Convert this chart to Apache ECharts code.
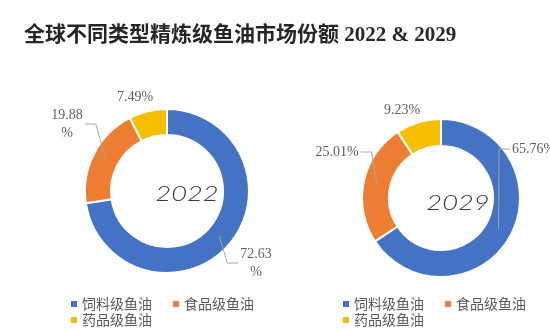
<!DOCTYPE html>
<html>
<head>
<meta charset="utf-8">
<script src="https://cdn.jsdelivr.net/npm/echarts@6/dist/echarts.min.js"></script>
<style>html,body{margin:0;padding:0;background:#fff}#main{width:550px;height:330px}</style>
</head>
<body>
<div id="main"></div>
<script>
const categories = ['饲料级鱼油', '食品级鱼油', '药品级鱼油'];
const share2022 = [72.63, 19.88, 7.49];
const share2029 = [65.76, 25.01, 9.23];
const years = ['2022', '2029'];
const titleText = '全球不同类型精炼级鱼油市场份额 2022 & 2029';

const colors = ['#4472C4', '#ED7D31', '#F5BF00'];
const labelFont = { fontFamily: '"Liberation Serif", "Noto Sans CJK SC", serif', fontSize: 14, color: '#5f5f5f' };

// label anchor spots (layout only): [x, y, align, showLeaderLine]
const spots2022 = [[256, 263, 'center', true], [67, 124, 'center', true], [135, 97, 'center', false]];
const spots2029 = [[512, 149, 'left', true], [337, 152, 'center', true], [402, 110, 'center', false]];

function makeData(vals) {
  return categories.map((c, i) => ({ name: c, value: vals[i] }));
}

function ringSeries(vals, center, radius) {
  return {
    type: 'pie',
    center: center,
    radius: radius,
    startAngle: 90,
    clockwise: true,
    z: 2,
    itemStyle: { borderColor: '#fff', borderWidth: 2 },
    label: { show: false },
    labelLine: { show: false },
    emphasis: { disabled: true },
    data: makeData(vals)
  };
}

// transparent overlay carrying labels + leader lines so lines draw over the ring
function labelSeries(vals, center, radius, spots, wrap) {
  const midR = (radius[0] + radius[1]) / 2;
  return {
    type: 'pie',
    center: center,
    radius: radius,
    startAngle: 90,
    clockwise: true,
    z: 5,
    silent: true,
    avoidLabelOverlap: false,
    itemStyle: { color: 'rgba(0,0,0,0)', borderWidth: 0 },
    label: Object.assign({
      show: true,
      position: 'outside',
      lineHeight: 18,
      formatter: p => (wrap && p.value > 10) ? p.value.toFixed(2) + '\n%' : p.value.toFixed(2) + '%'
    }, labelFont),
    labelLine: { show: true, length: 8, length2: 8, lineStyle: { color: '#a6a6a6', width: 1 } },
    labelLayout: function (p) {
      const s = spots[p.dataIndex];
      const out = { x: s[0], y: s[1], align: s[2], verticalAlign: 'middle' };
      const pts = p.labelLinePoints;
      if (pts && pts.length) {
        const w = p.labelRect.width;
        const leftEdge = s[2] === 'center' ? s[0] - w / 2 : (s[2] === 'left' ? s[0] : s[0] - w);
        const rightEdge = leftEdge + w;
        const dx = pts[0][0] - center[0], dy = pts[0][1] - center[1];
        const d = Math.sqrt(dx * dx + dy * dy) || 1;
        const p0 = [center[0] + dx / d * midR, center[1] + dy / d * midR];
        if (!s[3]) {
          out.labelLinePoints = [p0, p0, p0];
        } else {
          const onRight = p0[0] < leftEdge;
          const p2 = onRight ? [leftEdge - 2, s[1]] : [rightEdge + 2, s[1]];
          const p1 = onRight ? [p2[0] - 11, s[1]] : [p2[0] + 11, s[1]];
          out.labelLinePoints = [p0, p1, p2];
        }
      }
      return out;
    },
    emphasis: { disabled: true },
    data: makeData(vals)
  };
}

function legendPart(names, left, top) {
  return {
    data: names,
    left: left,
    top: top,
    orient: 'horizontal',
    icon: 'rect',
    itemWidth: 8,
    itemHeight: 8,
    itemGap: 19,
    selectedMode: false,
    textStyle: { fontFamily: '"Noto Sans CJK SC", sans-serif', fontSize: 14, color: '#595959', padding: [0, 0, 0, -1] }
  };
}

const yearStyle = { fontFamily: 'Lato, "DejaVu Sans", sans-serif', fontStyle: 'italic', fontWeight: 300, fontSize: 21, fill: '#3a3a3a', align: 'center', verticalAlign: 'middle' };

const chart = echarts.init(document.getElementById('main'), null, { renderer: 'canvas' });
chart.setOption({
  backgroundColor: '#fff',
  animation: false,
  color: colors,
  title: {
    text: titleText,
    left: 19,
    top: 20,
    textStyle: { fontFamily: '"Liberation Serif", "Noto Sans CJK SC", serif', fontSize: 21, fontWeight: 'bold', color: '#262626' }
  },
  legend: [
    legendPart([categories[0], categories[1]], 64, 292),
    legendPart([categories[2]], 64, 308),
    legendPart([categories[0], categories[1]], 336, 292),
    legendPart([categories[2]], 336, 308)
  ],
  graphic: [
    { type: 'text', x: 187, y: 194, scaleX: 1.3, z: 0, style: Object.assign({ text: years[0] }, yearStyle) },
    { type: 'text', x: 458, y: 203, scaleX: 1.3, z: 0, style: Object.assign({ text: years[1] }, yearStyle) }
  ],
  series: [
    ringSeries(share2022, [167, 191], [56, 82]),
    ringSeries(share2029, [441, 198], [52, 79]),
    labelSeries(share2022, [167, 191], [56, 82], spots2022, true),
    labelSeries(share2029, [441, 198], [52, 79], spots2029, false)
  ]
});
</script>
</body>
</html>
